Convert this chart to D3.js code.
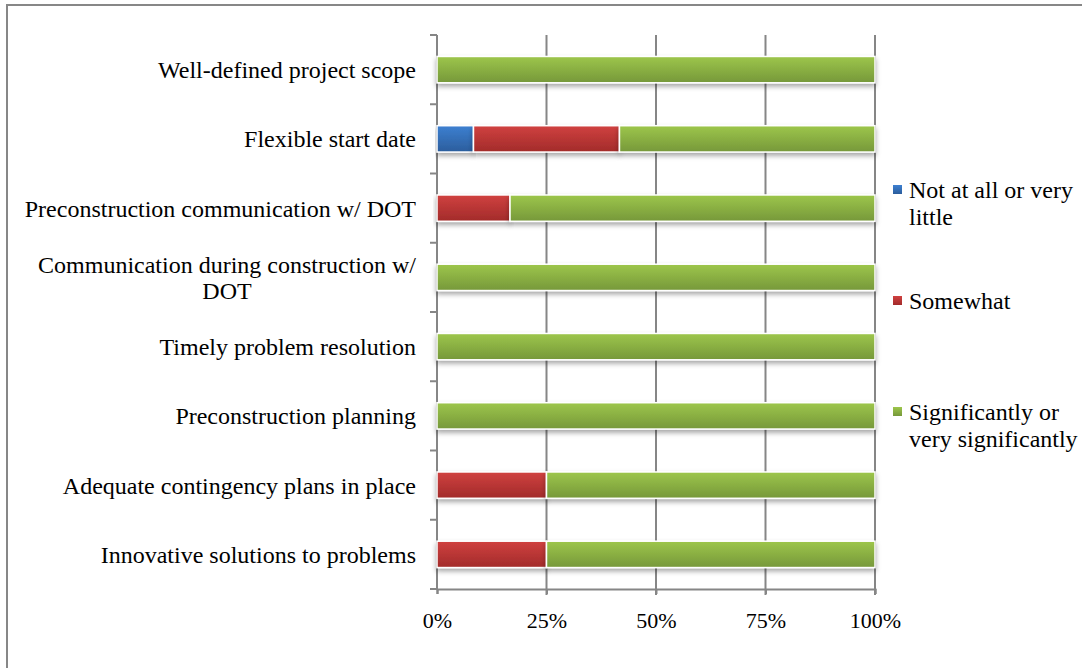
<!DOCTYPE html>
<html>
<head>
<meta charset="utf-8">
<script src="https://cdn.jsdelivr.net/npm/d3@7"></script>
<style>
  html, body { margin: 0; padding: 0; background: #fff; }
  svg { display: block; }
  text { font-family: "Liberation Serif", "Times New Roman", serif; fill: #000; }
</style>
</head>
<body>
<svg id="chart" width="1082" height="668"></svg>
<script>
// ---- data ----
const categories = [
  "Well-defined project scope",
  "Flexible start date",
  "Preconstruction communication w/ DOT",
  "Communication during construction w/ DOT",
  "Timely problem resolution",
  "Preconstruction planning",
  "Adequate contingency plans in place",
  "Innovative solutions to problems"
];
const seriesNames = ["Not at all or very little", "Somewhat", "Significantly or very significantly"];
const notAtAll    = [0, 8.33, 0, 0, 0, 0, 0, 0];
const somewhat    = [0, 33.33, 16.67, 0, 0, 0, 25, 25];
const significant = [100, 58.34, 83.33, 100, 100, 100, 75, 75];
const tickValues  = [0, 25, 50, 75, 100];
const tickLabels  = ["0%", "25%", "50%", "75%", "100%"];

const colors = [
  ["#3d80d1", "#2b5d9c"],
  ["#d04140", "#a22b2a"],
  ["#9dc64b", "#76983a"]
];

const svg = d3.select("#chart");
const defs = svg.append("defs");
colors.forEach((c, i) => {
  const g = defs.append("linearGradient").attr("id", "grad" + i)
    .attr("x1", 0).attr("y1", 0).attr("x2", 0).attr("y2", 1);
  g.append("stop").attr("offset", "0%").attr("stop-color", c[0]);
  g.append("stop").attr("offset", "100%").attr("stop-color", c[1]);
});
const f = defs.append("filter").attr("id", "shadow")
  .attr("x", "-5%").attr("y", "-30%").attr("width", "110%").attr("height", "180%");
f.append("feDropShadow").attr("dx", 0).attr("dy", 3).attr("stdDeviation", 2.5)
  .attr("flood-color", "#000").attr("flood-opacity", 0.35);

// outer frame (top + left visible)
svg.append("line").attr("x1", 6).attr("x2", 1082).attr("y1", 5).attr("y2", 5)
  .attr("stroke", "#878787").attr("stroke-width", 2);
svg.append("line").attr("x1", 7).attr("x2", 7).attr("y1", 4).attr("y2", 668)
  .attr("stroke", "#878787").attr("stroke-width", 2);

const x = d3.scaleLinear().domain([0, 100]).range([437, 875]);
const y = d3.scaleBand().domain(categories).range([35, 589]).padding(0);
const barH = y.bandwidth() * 0.38;

const gridColor = "#868686";

// vertical gridlines
svg.append("g").selectAll("line").data(tickValues.slice(1)).join("line")
  .attr("x1", d => x(d)).attr("x2", d => x(d))
  .attr("y1", 35).attr("y2", 595)
  .attr("stroke", gridColor).attr("stroke-width", 2);

// bottom axis
const xAxis = d3.axisBottom(x).tickValues(tickValues)
  .tickFormat((d, i) => tickLabels[i]).tickSize(5).tickPadding(18);
const gx = svg.append("g").attr("transform", "translate(0,589)").call(xAxis);
gx.attr("font-family", null);
gx.select(".domain").attr("stroke", gridColor).attr("stroke-width", 2);
gx.selectAll(".tick line").attr("stroke", gridColor).attr("stroke-width", 2);
gx.selectAll(".tick text").attr("font-size", 22);

// left axis line with ticks at band boundaries
svg.append("line").attr("x1", 437).attr("x2", 437).attr("y1", 35).attr("y2", 589)
  .attr("stroke", gridColor).attr("stroke-width", 2);
const bounds = categories.map(c => y(c)).concat([589]);
svg.append("g").selectAll("line").data(bounds).join("line")
  .attr("x1", 430).attr("x2", 437).attr("y1", d => d).attr("y2", d => d)
  .attr("stroke", gridColor).attr("stroke-width", 2);

// stacked bars
const rows = categories.map((c, i) => ({cat: c, s0: notAtAll[i], s1: somewhat[i], s2: significant[i]}));
const stack = d3.stack().keys(["s0", "s1", "s2"]);
const stacked = stack(rows);
const barsG = svg.append("g");
stacked.forEach((layer, li) => {
  barsG.append("g").selectAll("rect").data(layer.filter(d => d[1] - d[0] > 0)).join("rect")
    .attr("x", d => x(d[0]))
    .attr("width", d => x(d[1]) - x(d[0]))
    .attr("y", d => y(d.data.cat) + (y.bandwidth() - barH) / 2)
    .attr("height", barH)
    .attr("fill", "url(#grad" + li + ")")
    .attr("stroke", "#fff").attr("stroke-width", 1.5)
    .attr("filter", "url(#shadow)");
});

// category labels (wrapped, right aligned block with centered lines)
const labelRight = 416;
const maxLabelW = 405;
const catFont = 24;
function wrapWords(text, maxW, fontSize) {
  const tmp = svg.append("text").attr("font-size", fontSize);
  const words = text.split(" ");
  const lines = [];
  let cur = [];
  words.forEach(w => {
    const test = cur.concat([w]).join(" ");
    tmp.text(test);
    if (tmp.node().getComputedTextLength() > maxW && cur.length) {
      lines.push(cur.join(" "));
      cur = [w];
    } else cur.push(w);
  });
  if (cur.length) lines.push(cur.join(" "));
  const widths = lines.map(l => { tmp.text(l); return tmp.node().getComputedTextLength(); });
  tmp.remove();
  return {lines, widths};
}
categories.forEach(c => {
  const {lines, widths} = wrapWords(c, maxLabelW, catFont);
  const maxW = d3.max(widths);
  const cx = labelRight - maxW / 2;
  const lh = 26;
  const cy = y(c) + y.bandwidth() / 2;
  const t = svg.append("text").attr("font-size", catFont).attr("text-anchor", "middle");
  lines.forEach((l, i) => {
    t.append("tspan").attr("x", cx)
      .attr("y", cy + (i - (lines.length - 1) / 2) * lh)
      .attr("dy", "0.35em").text(l);
  });
});

// legend
const legY = d3.scalePoint().domain(seriesNames).range([198, 420]);
const legFont = 24;
seriesNames.forEach((s, i) => {
  const by = legY(s);
  svg.append("rect").attr("x", 893).attr("y", by - 13).attr("width", 9).attr("height", 9)
    .attr("fill", "url(#grad" + i + ")");
  const {lines} = wrapWords(s, 178, legFont);
  const t = svg.append("text").attr("font-size", legFont);
  lines.forEach((l, j) => {
    t.append("tspan").attr("x", 909).attr("y", by + j * 27).text(l);
  });
});
</script>
</body>
</html>
